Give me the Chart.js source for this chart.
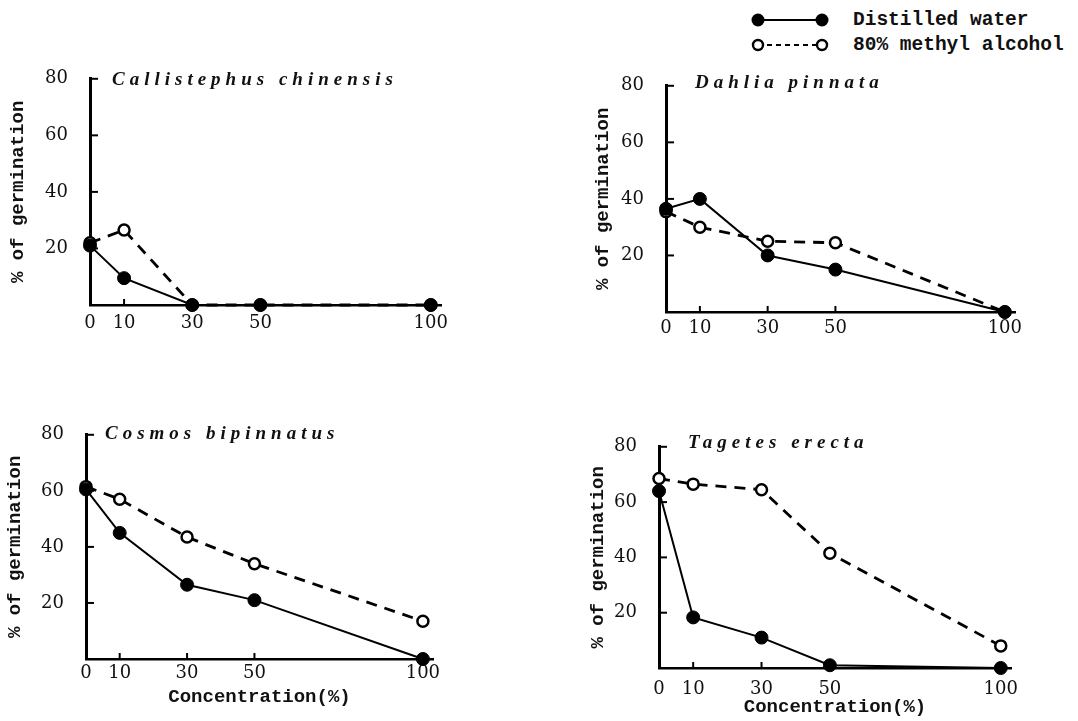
<!DOCTYPE html>
<html>
<head>
<meta charset="utf-8">
<script src="https://cdn.jsdelivr.net/npm/chart.js@4.4.1/dist/chart.umd.min.js"></script>
<style>
  body { margin: 0; background: #fff; width: 1078px; height: 721px; overflow: hidden; position: relative; }
  .caja { position: absolute; }
  .leyenda-txt { position: absolute; left: 853px; font: bold 19.5px "Liberation Mono", monospace; color: #111; line-height: 20px; white-space: nowrap; }
</style>
</head>
<body>

<svg class="caja" style="left:740px;top:0" width="100" height="60">
  <line x1="18" y1="20" x2="82" y2="20" stroke="#000" stroke-width="2"/>
  <circle cx="18" cy="20" r="6.5" fill="#000"/>
  <circle cx="82" cy="20" r="6.5" fill="#000"/>
  <line x1="18" y1="45" x2="82" y2="45" stroke="#000" stroke-width="2" stroke-dasharray="5 4"/>
  <circle cx="18" cy="45" r="5" fill="#fff" stroke="#000" stroke-width="2.4"/>
  <circle cx="82" cy="45" r="5" fill="#fff" stroke="#000" stroke-width="2.4"/>
</svg>
<div class="leyenda-txt" style="top:10px">Distilled water</div>
<div class="leyenda-txt" style="top:35px">80% methyl alcohol</div>

<div class="caja" style="left:3px;top:54px;width:462px;height:281px"><canvas id="c1"></canvas></div>
<div class="caja" style="left:588px;top:61px;width:451px;height:281px"><canvas id="c2"></canvas></div>
<div class="caja" style="left:0px;top:410px;width:457px;height:303px"><canvas id="c3"></canvas></div>
<div class="caja" style="left:583px;top:422px;width:452px;height:301px"><canvas id="c4"></canvas></div>

<script>
const concentracion = [0, 10, 30, 50, 100]
const ticksX = [0, 10, 30, 50, 100]
const ticksY = [20, 40, 60, 80]

const aguaCallistephus = [21, 9.5, 0, 0, 0]
const metanolCallistephus = [22, 26.5, 0, 0, 0]
const aguaDahlia = [36.5, 40, 20, 15, 0]
const metanolDahlia = [35.5, 30, 25, 24.5, 0]
const aguaCosmos = [60.5, 45, 26.5, 21, 0]
const metanolCosmos = [61.5, 57, 43.5, 34, 13.5]
const aguaTagetes = [64, 18.3, 11, 1, 0]
const metanolTagetes = [68.5, 66.5, 64.5, 41.5, 8]

const fuenteTicks = { family: '"DejaVu Serif", serif', size: 18 }
const fuenteMono = { family: '"Liberation Mono", monospace', size: 19, weight: 'bold' }

// marcas de eje hacia dentro + nombre de la especie
const marcas = {
  id: 'marcas',
  afterDraw(chart, args, opts) {
    const { ctx, chartArea, scales: { x, y } } = chart
    ctx.save()
    ctx.strokeStyle = '#000'
    ctx.lineWidth = 2
    ticksY.forEach(v => {
      const py = y.getPixelForValue(v)
      ctx.beginPath(); ctx.moveTo(chartArea.left, py); ctx.lineTo(chartArea.left + 8, py); ctx.stroke()
    })
    ticksX.slice(1, 4).forEach(v => {
      const px = x.getPixelForValue(v)
      ctx.beginPath(); ctx.moveTo(px, chartArea.bottom); ctx.lineTo(px, chartArea.bottom - 6); ctx.stroke()
    })
    ctx.fillStyle = '#111'
    ctx.font = 'italic bold 19px "Liberation Serif", serif'
    ctx.letterSpacing = '5px'
    ctx.textBaseline = 'middle'
    ctx.fillText(opts.texto, chartArea.left + opts.dx, chartArea.top + opts.dy)
    ctx.restore()
  }
}

function graficar(id, especie, agua, metanol, cfg) {
  const ctx = document.getElementById(id).getContext('2d')
  return new Chart(ctx, {
    type: 'line',
    data: {
      datasets: [
        {
          label: 'Distilled water',
          data: concentracion.map((c, i) => ({ x: c, y: agua[i] })),
          borderColor: '#000', borderWidth: 2,
          pointRadius: 6.5, pointBackgroundColor: '#000', pointBorderColor: '#000', pointBorderWidth: 1,
          clip: false
        },
        {
          label: '80% methyl alcohol',
          data: concentracion.map((c, i) => ({ x: c, y: metanol[i] })),
          borderColor: '#000', borderWidth: 2.8, borderDash: [11, 8],
          pointRadius: 5.5, pointBackgroundColor: '#fff', pointBorderColor: '#000', pointBorderWidth: 2.5,
          clip: false
        }
      ]
    },
    options: {
      responsive: true,
      maintainAspectRatio: false,
      animation: false,
      layout: { padding: { top: 12, right: 24, left: 0, bottom: 0 } },
      plugins: {
        legend: { display: false },
        tooltip: { enabled: false },
        marcas: { texto: especie, dx: cfg.dx, dy: cfg.dy }
      },
      scales: {
        x: {
          type: 'linear', min: 0, max: 103,
          afterBuildTicks: s => { s.ticks = ticksX.map(v => ({ value: v })) },
          afterFit: s => { s.height = cfg.xH },
          ticks: { color: '#111', font: fuenteTicks, padding: cfg.padX, maxRotation: 0, autoSkip: false },
          grid: { display: false },
          border: { display: true, color: '#000', width: 2.5 },
          title: { display: cfg.tituloX, text: 'Concentration(%)', color: '#111', font: fuenteMono, padding: 4 }
        },
        y: {
          min: 0, max: 80,
          afterBuildTicks: s => { s.ticks = ticksY.map(v => ({ value: v })) },
          afterFit: s => { s.width = cfg.yW },
          ticks: { color: '#111', font: fuenteTicks, padding: 14 },
          grid: { display: false },
          border: { display: true, color: '#000', width: 3 },
          title: { display: true, text: '% of germination', color: '#111', font: fuenteMono, padding: 4 }
        }
      }
    },
    plugins: [marcas]
  })
}

graficar('c1', 'Callistephus chinensis', aguaCallistephus, metanolCallistephus, { yW: 87, xH: 30, padX: 0, tituloX: false, dx: 22, dy: 1 })
graficar('c2', 'Dahlia pinnata', aguaDahlia, metanolDahlia, { yW: 78, xH: 30, padX: -2, tituloX: false, dx: 29, dy: -3 })
graficar('c3', 'Cosmos bipinnatus', aguaCosmos, metanolCosmos, { yW: 86, xH: 54, padX: -4, tituloX: true, dx: 19, dy: -1 })
graficar('c4', 'Tagetes erecta', aguaTagetes, metanolTagetes, { yW: 76, xH: 55, padX: 3, tituloX: true, dx: 29, dy: -4 })
</script>
</body>
</html>
